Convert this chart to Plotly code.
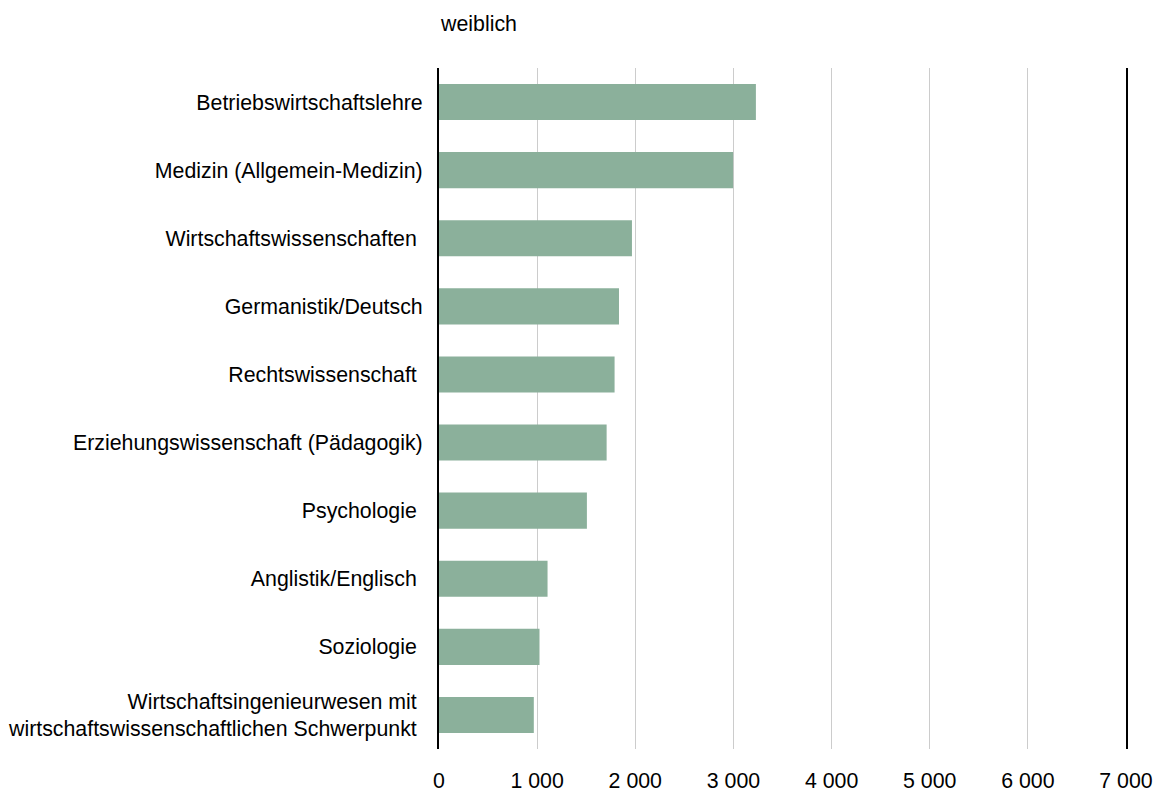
import plotly.graph_objects as go

categories = [
    "Betriebswirtschaftslehre",
    "Medizin (Allgemein-Medizin)",
    "Wirtschaftswissenschaften\u00a0",
    "Germanistik/Deutsch",
    "Rechtswissenschaft\u00a0",
    "Erziehungswissenschaft (Pädagogik)",
    "Psychologie\u00a0",
    "Anglistik/Englisch\u00a0",
    "Soziologie\u00a0",
    "Wirtschaftsingenieurwesen mit\u00a0<br>wirtschaftswissenschaftlichen Schwerpunkt\u00a0",
]
values = [3229, 2997, 1966, 1834, 1789, 1708, 1507, 1106, 1024, 966]
series_name = "weiblich"

font_family = "Liberation Sans, Arial, sans-serif"
FS = 21.33

W, H = 1153, 784  # page body has an 8px margin

fig = go.Figure(
    go.Bar(
        x=values,
        y=categories,
        orientation="h",
        name=series_name,
        marker=dict(color="#8bb09b", line=dict(width=0)),
        hoverinfo="x+y",
    )
)

fig.update_layout(
    width=W,
    height=H,
    autosize=False,
    paper_bgcolor="white",
    plot_bgcolor="white",
    font=dict(family=font_family, size=FS, color="black"),
    separators=", ",
    margin=dict(l=431, r=35, t=60, b=43, pad=0),
    bargap=0.47,
    showlegend=False,
    title=dict(
        text=series_name,
        x=0.003,
        xref="paper",
        xanchor="left",
        y=1 - 16 / H,
        yref="container",
        yanchor="middle",
        font=dict(size=FS, color="black", family=font_family),
    ),
)

fig.update_xaxes(
    range=[0, 7000],
    dtick=1000,
    tick0=0,
    tickformat=",.0f",
    showgrid=True,
    gridcolor="#cccccc",
    gridwidth=1,
    zeroline=False,
    showline=False,
    ticks="",
    ticklabelstandoff=17,
    automargin=False,
    fixedrange=True,
)

fig.update_yaxes(
    autorange="reversed",
    showline=True,
    linecolor="black",
    linewidth=2,
    mirror=True,
    showgrid=False,
    ticks="",
    ticklabelstandoff=10,
    automargin=False,
    fixedrange=True,
)

fig.write_html("out.html")
